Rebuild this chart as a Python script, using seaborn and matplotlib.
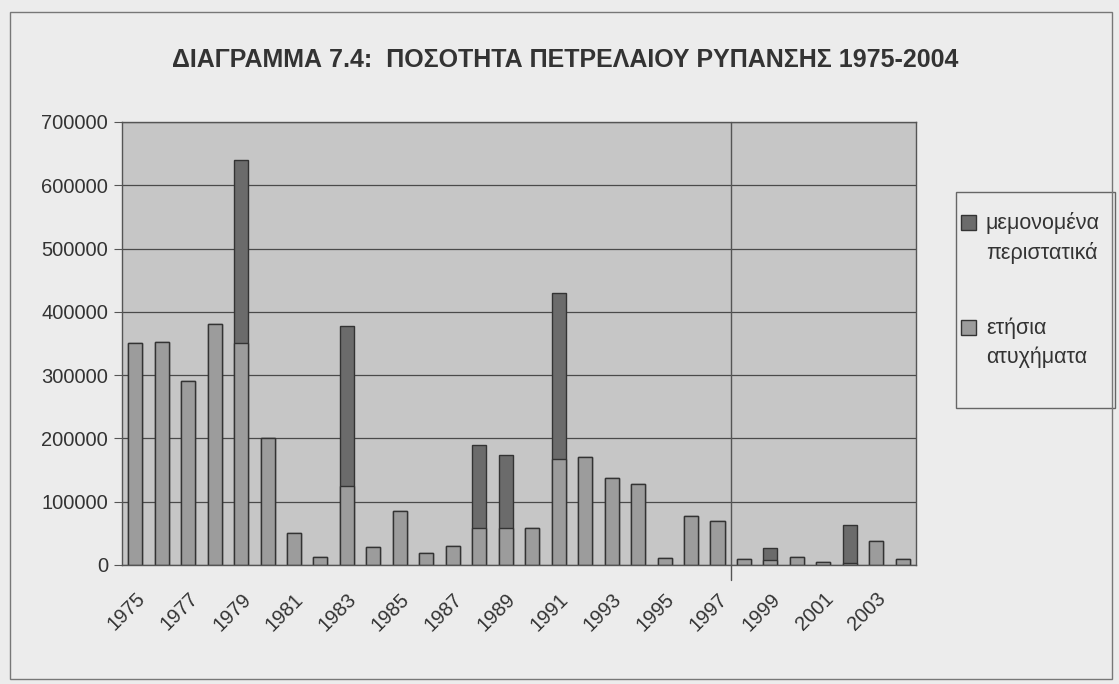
import numpy as np
import matplotlib.pyplot as plt
import seaborn as sns
from matplotlib.patches import Patch, Rectangle
from matplotlib.legend_handler import HandlerPatch

# data
years = list(range(1975, 2005))
annual = [350000, 353000, 290000, 380000, 350000, 200000, 50000, 13000, 125000, 28000,
          85000, 19000, 30000, 58000, 58000, 58000, 168000, 171000, 137000, 128000,
          11000, 77000, 70000, 10000, 8000, 12000, 5000, 3000, 38000, 10000]
single = [0, 0, 0, 0, 290000, 0, 0, 0, 253000, 0,
          0, 0, 0, 132000, 116000, 0, 262000, 0, 0, 0,
          0, 0, 0, 0, 19000, 0, 0, 60000, 0, 0]
tick_years = [str(y) for y in years[::2]]

total = np.array(annual) + np.array(single)

sns.set_style("white")
plt.rcParams['font.family'] = ['Liberation Sans', 'DejaVu Sans']

bg = '#ececec'
fig = plt.figure(figsize=(11.19, 6.84), dpi=100, facecolor=bg)
ax = fig.add_axes([0.109, 0.174, 0.7096, 0.6477])
ax.set_facecolor('#c6c6c6')

dark = '#6b6b6b'
light = '#9c9c9c'
sns.barplot(x=[str(y) for y in years], y=total, color=dark, width=0.53,
            edgecolor='#333333', linewidth=1, saturation=1, ax=ax)
sns.barplot(x=[str(y) for y in years], y=annual, color=light, width=0.53,
            edgecolor='#333333', linewidth=1, saturation=1, ax=ax)

ax.set_xlim(-0.5, len(years) - 0.5)
ax.set_ylim(0, 700000)
ax.set_yticks(np.arange(0, 700001, 100000))
ax.set_yticklabels([str(v) for v in range(0, 700001, 100000)], fontsize=14.5, color='#333333')
ax.yaxis.grid(True, color='#4a4a4a', lw=0.9)
ax.set_axisbelow(True)
ax.tick_params(axis='y', left=True, length=6, color='#555555', pad=4)

ax.set_xticks(range(0, len(years), 2))
ax.set_xticklabels(tick_years, rotation=45, ha='right', rotation_mode='anchor',
                   fontsize=14.5, color='#333333')
ax.tick_params(axis='x', bottom=False, pad=14)
ax.set_xlabel('')
ax.set_ylabel('')
for s in ax.spines.values():
    s.set_color('#555555')
    s.set_linewidth(1)

# fold line visible in the scan
ax.axvline(22.5, ymin=-0.035, ymax=1, color='#555555', lw=1, clip_on=False)

fig.text(0.505, 0.912, 'ΔΙΑΓΡΑΜΜΑ 7.4:  ΠΟΣΟΤΗΤΑ ΠΕΤΡΕΛΑΙΟΥ ΡΥΠΑΝΣΗΣ 1975-2004',
         ha='center', va='center', fontsize=18, fontweight='bold',
         family=['Liberation Sans Narrow', 'Liberation Sans'], color='#333333')


# legend square sits level with the first line of its label
def top_square(legend, orig_handle, xdescent, ydescent, width, height, fontsize):
    return Rectangle((-xdescent, -ydescent + 0.72 * fontsize), width, height)


# legend frame drawn separately so its size matches the scan
fig.patches.append(Rectangle((0.854, 0.4035), 0.142, 0.316, transform=fig.transFigure,
                             facecolor=bg, edgecolor='#666666', lw=1))
handles = [Patch(facecolor=dark, edgecolor='#333333'),
           Patch(facecolor=light, edgecolor='#333333')]
leg = fig.legend(handles, ['μεμονομένα\nπεριστατικά', 'ετήσια\nατυχήματα'],
                 loc='upper left', bbox_to_anchor=(0.859, 0.69), fontsize=15.5,
                 frameon=False, labelspacing=2.5,
                 handlelength=0.7, handleheight=0.7, handletextpad=0.45,
                 borderpad=0, borderaxespad=0,
                 handler_map={Patch: HandlerPatch(patch_func=top_square)})
for t in leg.get_texts():
    t.set_color('#333333')
    t.set_linespacing(1.45)

fig.patches.append(Rectangle((0.009, 0.008), 0.985, 0.975, transform=fig.transFigure,
                             fill=False, edgecolor='#777777', lw=1))

fig.savefig('out.png', dpi=100, facecolor=bg)
